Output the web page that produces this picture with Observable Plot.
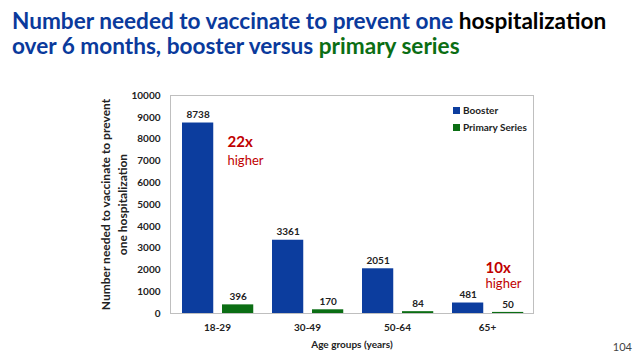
<!DOCTYPE html>
<html>
<head>
<meta charset="utf-8">
<script src="https://cdn.jsdelivr.net/npm/d3@7"></script>
<script src="https://cdn.jsdelivr.net/npm/@observablehq/plot@0.6"></script>
<style>
  html, body { margin: 0; padding: 0; background: #fff; }
  #wrap { position: relative; width: 640px; height: 355px; overflow: hidden; font-family: Lato, "Open Sans", sans-serif; }
  #title { position: absolute; left: 12px; top: 8px; font-size: 22.6px; font-weight: 700; line-height: 25px; color: #0a3a9c; white-space: nowrap; }
  #chart { position: absolute; left: 0; top: 80px; }
  .lg { position: absolute; font-size: 10px; font-weight: 700; color: #222; white-space: nowrap; }
  .sw { display: inline-block; width: 7px; height: 7px; margin-right: 3px; }
  #page { position: absolute; right: 8px; top: 340px; font-size: 11px; color: #444; }
</style>
</head>
<body>
<div id="wrap">
  <div id="title">Number needed to vaccinate to prevent one <span style="color:#000">hospitalization</span><br>over 6 months, booster versus <span style="color:#0b6e14">primary series</span></div>
  <div id="chart"></div>
  <div class="lg" style="left:453px; top:104px;"><span class="sw" style="background:#0c3d9e"></span>Booster</div>
  <div class="lg" style="left:453px; top:121px;"><span class="sw" style="background:#0b6e14"></span>Primary Series</div>
  <div id="page">104</div>
</div>
<script>
const ageGroups = ["18-29", "30-49", "50-64", "65+"];
const booster = [8738, 3361, 2051, 481];
const primary = [396, 170, 84, 50];
const yTicks = [0, 1000, 2000, 3000, 4000, 5000, 6000, 7000, 8000, 9000, 10000];
const annoAge = ["18-29", "18-29", "65+", "65+"];
const annoY = [7615, 6790, 1880, 1150];
const annoText = ["22x", "higher", "10x", "higher"];
const annoBold = [true, false, true, false];

const blue = "#0c3d9e";
const green = "#0b6e14";
const red = "#c00000";

const bData = ageGroups.map((a, i) => ({age: a, value: booster[i]}));
const pData = ageGroups.map((a, i) => ({age: a, value: primary[i]}));
const anno = annoText.map((t, i) => ({age: annoAge[i], y: annoY[i], text: t, bold: annoBold[i]}));
const annoDx = {"18-29": 10, "65+": -2};

const font = "Lato, 'Open Sans', sans-serif";

const annoMarks = anno.map(d => Plot.text([d], {
  x: "age", y: "y", text: "text", dx: annoDx[d.age],
  fill: red, fontWeight: d.bold ? 700 : 400, fontSize: d.bold ? 15 : 13,
  textAnchor: "start", lineAnchor: "bottom"
}));

const chart = Plot.plot({
  width: 640,
  height: 275,
  marginTop: 15,
  marginBottom: 42,
  marginLeft: 170,
  marginRight: 107,
  style: {fontFamily: font, fontSize: "10px", fontWeight: "700", color: "#222", background: "transparent"},
  x: {domain: ageGroups, padding: 0, label: null},
  y: {domain: [0, 10000], label: null},
  marks: [
    Plot.frame({stroke: "#bfbfbf"}),
    Plot.barY(bData, {x: "age", y: "value", fill: blue, insetLeft: 10, insetRight: 48.75}),
    Plot.barY(pData, {x: "age", y: "value", fill: green, insetLeft: 50, insetRight: 8.75}),
    Plot.text(bData, {x: "age", y: "value", text: d => String(d.value), dx: -19.4, dy: -8, fill: "#222", fontWeight: 700, fontSize: 10}),
    Plot.text(pData, {x: "age", y: "value", text: d => String(d.value), dx: 20.6, dy: -8, fill: "#222", fontWeight: 700, fontSize: 10}),
    ...annoMarks,
    Plot.axisY({ticks: yTicks, tickSize: 0, tickPadding: 10, tickFormat: d => String(d), label: null, fontSize: 10, fontWeight: 700}),
    Plot.axisX({tickSize: 0, tickPadding: 10, label: null, fontSize: 10, fontWeight: 700}),
    Plot.text(["Number needed to vaccinate to prevent\none hospitalization"], {frameAnchor: "left", textAnchor: "middle", rotate: -90, dx: -57, fontSize: 12, fontWeight: 700, fill: "#222", lineHeight: 1.4}),
    Plot.text(["Age groups (years)"], {frameAnchor: "bottom", dy: 34, fontSize: 10, fontWeight: 700, fill: "#222"})
  ]
});
document.getElementById("chart").appendChild(chart);
</script>
</body>
</html>
